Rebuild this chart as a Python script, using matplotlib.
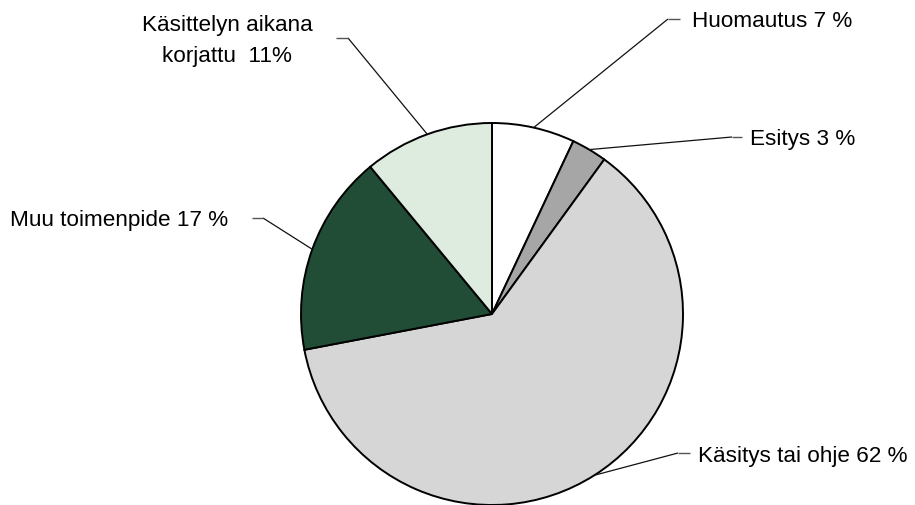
import numpy as np
import matplotlib
matplotlib.use("Agg")
import matplotlib.pyplot as plt

plt.rcParams['font.family'] = ['Liberation Sans', 'DejaVu Sans']

# Slice data (clockwise from 12 o'clock)
categories = ["Huomautus", "Esitys", "Käsitys tai ohje", "Muu toimenpide",
              "Käsittelyn aikana korjattu"]
shares = [7, 3, 62, 17, 11]
labels = ["Huomautus 7 %", "Esitys 3 %", "Käsitys tai ohje 62 %",
          "Muu toimenpide 17 %", "Käsittelyn aikana\nkorjattu  11%"]
colors = ["#ffffff", "#a6a6a6", "#d6d6d6", "#214d36", "#deebdf"]

W, H = 915, 505
fig = plt.figure(figsize=(W / 100, H / 100), dpi=100)
ax = fig.add_axes([0, 0, 1, 1])

cx, cy, r = 492, 314, 191


def Y(y):
    return H - y


ax.pie(shares, colors=colors, startangle=90, counterclock=False,
       center=(cx, Y(cy)), radius=r,
       wedgeprops=dict(edgecolor="black", linewidth=1.4))

# Leader-line layout: elbow point, stub end, text anchor, alignment
layout = [
    dict(elbow=(668, 19), stub=(680, 19), text=(692, 27), ha="left"),
    dict(elbow=(732, 137), stub=(742, 137), text=(750, 145), ha="left"),
    dict(elbow=(678, 453), stub=(690, 453), text=(698, 462), ha="left"),
    dict(elbow=(263, 218), stub=(252, 218), text=(228, 226), ha="right"),
    dict(elbow=(348, 38), stub=(336, 38), text=(227, 31), ha="center"),
]

total = float(sum(shares))
cum = np.cumsum(shares)
for i, (lab, lay) in enumerate(zip(labels, layout)):
    mid = 2 * np.pi * (cum[i] - shares[i] / 2) / total
    ax_x = cx + r * np.sin(mid)
    ax_y = cy - r * np.cos(mid)
    ex, ey = lay["elbow"]
    sx, sy = lay["stub"]
    ax.plot([ax_x, ex], [Y(ax_y), Y(ey)], color="#111111", lw=0.9,
            solid_capstyle="butt")
    ax.plot([ex, sx], [Y(ey), Y(sy)], color="#555555", lw=1.0,
            solid_capstyle="butt")
    tx, ty = lay["text"]
    for j, line in enumerate(lab.split("\n")):
        ax.text(tx, Y(ty + 31 * j), line, ha=lay["ha"], va="baseline",
                fontsize=16.2, color="black")

ax.set_xlim(0, W)
ax.set_ylim(0, H)
ax.set_aspect("equal")
ax.axis("off")

fig.savefig("out.png", dpi=100, facecolor="white")
